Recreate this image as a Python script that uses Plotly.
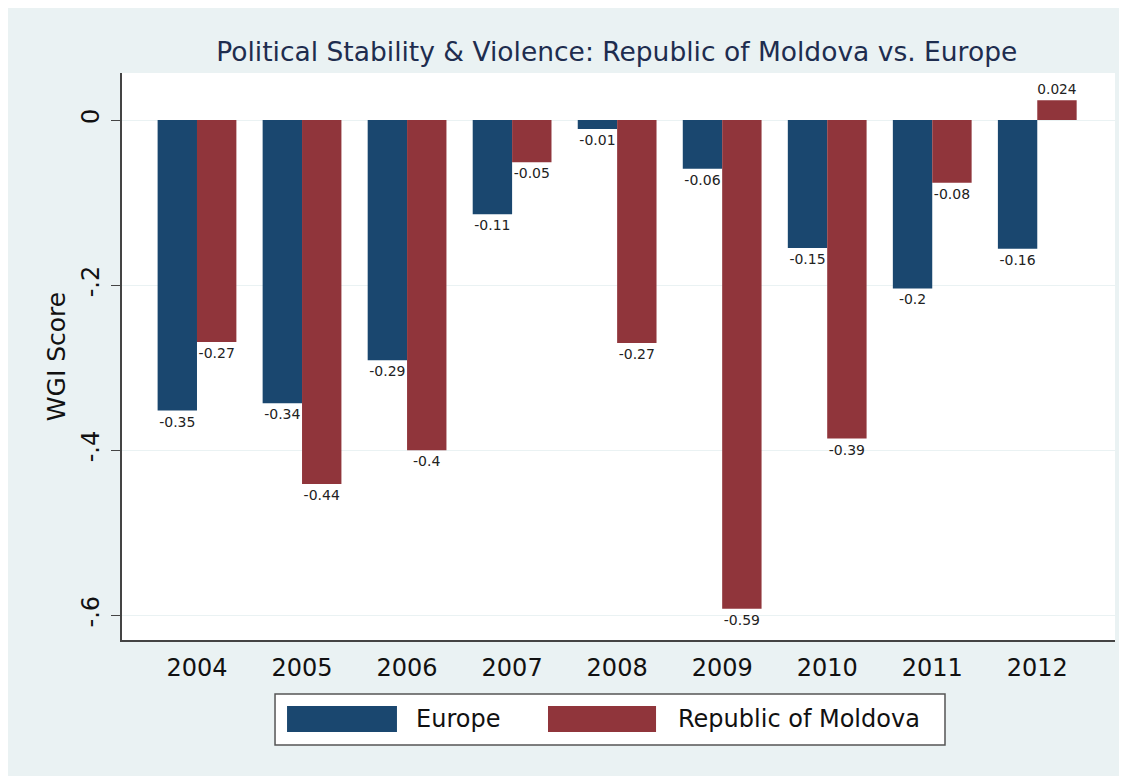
import plotly.graph_objects as go

years = ["2004", "2005", "2006", "2007", "2008", "2009", "2010", "2011", "2012"]
europe = [-0.352, -0.343, -0.291, -0.114, -0.011, -0.059, -0.155, -0.204, -0.156]
moldova = [-0.269, -0.441, -0.400, -0.051, -0.270, -0.592, -0.386, -0.076, 0.024]
europe_labels = ["-0.35", "-0.34", "-0.29", "-0.11", "-0.01", "-0.06", "-0.15", "-0.2", "-0.16"]
moldova_labels = ["-0.27", "-0.44", "-0.4", "-0.05", "-0.27", "-0.59", "-0.39", "-0.08", "0.024"]
series_names = ["Europe", "Republic of Moldova"]
ytick_vals = [0, -0.2, -0.4, -0.6]
ytick_text = ["0", "-.2", "-.4", "-.6"]

BG = "#eaf2f3"
C_EU = "#1a476f"
C_MD = "#90353b"
FONT = "DejaVu Sans, Liberation Sans, Arial, sans-serif"

fig = go.Figure()
fig.add_trace(go.Bar(x=years, y=europe, name=series_names[0], marker=dict(color=C_EU, line=dict(width=0)),
                     text=europe_labels, textposition="outside", cliponaxis=False,
                     textfont=dict(size=14, color="#222")))
fig.add_trace(go.Bar(x=years, y=moldova, name=series_names[1], marker=dict(color=C_MD, line=dict(width=0)),
                     text=moldova_labels, textposition="outside", cliponaxis=False,
                     textfont=dict(size=14, color="#222")))

# custom Stata-like legend (wide swatches) in paper coordinates
legend_shapes = [
    dict(type="rect", xref="paper", yref="paper", x0=0.1541, x1=0.8288, y0=-0.1852, y1=-0.0952,
         fillcolor="white", line=dict(color="#555", width=1.5)),
    dict(type="rect", xref="paper", yref="paper", x0=0.1662, x1=0.2769, y0=-0.1623, y1=-0.1164,
         fillcolor=C_EU, line=dict(width=0)),
    dict(type="rect", xref="paper", yref="paper", x0=0.4290, x1=0.5378, y0=-0.1623, y1=-0.1164,
         fillcolor=C_MD, line=dict(width=0)),
]
legend_ann = [
    dict(text=series_names[0], xref="paper", yref="paper", x=0.2941, y=-0.1393, xanchor="left",
         yanchor="middle", showarrow=False, font=dict(size=24, color="#111", family=FONT)),
    dict(text=series_names[1], xref="paper", yref="paper", x=0.5579, y=-0.1393, xanchor="left",
         yanchor="middle", showarrow=False, font=dict(size=24, color="#111", family=FONT)),
]

fig.update_layout(
    width=1119, height=768,
    paper_bgcolor=BG, plot_bgcolor="white",
    font=dict(family=FONT, color="#111"),
    margin=dict(l=114, r=12, t=65, b=136),
    barmode="group", bargap=0.25, bargroupgap=0,
    showlegend=False,
    title=dict(text="Political Stability & Violence: Republic of Moldova vs. Europe",
               x=0.544, xanchor="center", y=0.943, yanchor="middle",
               font=dict(size=26.5, color="#1e2d4f", family=FONT)),
    xaxis=dict(range=[-0.714, 8.74], showline=True, linecolor="#444", linewidth=1.5,
               ticks="", tickfont=dict(size=24, color="#111"), showgrid=False, ticklabelstandoff=5),
    yaxis=dict(range=[-0.630, 0.057], tickvals=ytick_vals, ticktext=ytick_text, tickangle=-90,
               showline=True, linecolor="#444", linewidth=1.5, ticks="outside", ticklen=9,
               tickcolor="#444", tickfont=dict(size=24, color="#111"), ticklabelstandoff=3,
               showgrid=True, gridcolor=BG, gridwidth=1.2, zeroline=False,
               title=dict(text="WGI Score", font=dict(size=25, color="#111"), standoff=4)),
    shapes=legend_shapes,
    annotations=legend_ann,
)
fig.write_html("out.html")
